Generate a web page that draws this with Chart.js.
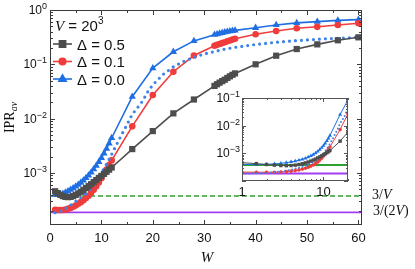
<!DOCTYPE html>
<html>
<head>
<meta charset="utf-8">
<script src="https://cdn.jsdelivr.net/npm/chart.js@4.4.1/dist/chart.umd.min.js"></script>
<style>
  html, body { margin: 0; padding: 0; background: #fff; }
  #wrap { position: relative; width: 415px; height: 269px; }
  #wrap canvas { position: absolute; left: 0; top: 0; }
</style>
</head>
<body>
<div id="wrap">
  <canvas id="main" width="415" height="269"></canvas>
  <canvas id="inset" width="415" height="269"></canvas>
</div>
<script>
// IPR_av vs disorder W, V = 20^3

// disorder values shared by the three marked series
const W = [1, 1.5, 2, 2.5, 3, 3.5, 4, 4.5, 5, 5.5, 6, 6.5, 7, 7.5, 8, 8.5, 9, 9.5, 10, 10.5, 11, 11.5, 12,
  16, 20, 24, 28,
  32, 32.5, 33, 33.5, 34, 34.5, 35, 35.5, 36,
  40, 44, 48, 52, 56, 60];

const ipr05 = [4.6e-4, 4.25e-4, 3.95e-4, 3.75e-4, 3.62e-4, 3.58e-4, 3.62e-4, 3.75e-4, 3.95e-4, 4.2e-4, 4.5e-4, 4.85e-4,
  5.25e-4, 5.7e-4, 6.2e-4, 6.8e-4, 7.4e-4, 8.1e-4, 8.8e-4, 9.6e-4, 1.05e-3, 1.15e-3, 1.26e-3,
  2.75e-3, 5.9e-3, 0.0125, 0.0225,
  0.040, 0.043, 0.046, 0.049, 0.052, 0.056, 0.060, 0.064, 0.068,
  0.100, 0.144, 0.191, 0.233, 0.277, 0.314];

const ipr01 = [2.1e-4, 2.08e-4, 2.07e-4, 2.08e-4, 2.12e-4, 2.18e-4, 2.27e-4, 2.38e-4, 2.52e-4, 2.7e-4, 2.9e-4, 3.15e-4,
  3.45e-4, 3.8e-4, 4.3e-4, 4.9e-4, 5.7e-4, 6.7e-4, 8.0e-4, 9.6e-4, 1.15e-3, 1.4e-3, 1.7e-3,
  7.2e-3, 0.0272, 0.073, 0.145,
  0.22, 0.228, 0.237, 0.246, 0.255, 0.265, 0.275, 0.285, 0.295,
  0.357, 0.41, 0.46, 0.49, 0.53, 0.569];

const ipr00 = [4.0e-4, 3.95e-4, 4.0e-4, 4.15e-4, 4.35e-4, 4.6e-4, 4.9e-4, 5.25e-4, 5.65e-4, 6.1e-4, 6.65e-4, 7.3e-4,
  8.1e-4, 9.0e-4, 1.02e-3, 1.17e-3, 1.36e-3, 1.6e-3, 1.9e-3, 2.3e-3, 2.8e-3, 3.5e-3, 4.4e-3,
  0.0253, 0.085, 0.17, 0.27,
  0.35, 0.36, 0.37, 0.38, 0.39, 0.398, 0.406, 0.414, 0.422,
  0.47, 0.53, 0.58, 0.61, 0.645, 0.665];

// dotted blue curve (no legend entry)
const Wdot = [1, 2, 3, 4, 5, 6, 7, 8, 9, 10, 11, 12, 13, 14, 15, 16, 17, 18, 19, 20,
  22, 24, 26, 28, 30, 32, 34, 36, 40, 44, 48, 52, 56, 60];
const iprDot = [1.85e-4, 1.95e-4, 2.2e-4, 2.55e-4, 3.0e-4, 3.5e-4, 4.2e-4, 5.3e-4, 7.2e-4, 1.0e-3, 1.45e-3, 2.2e-3,
  3.4e-3, 5.2e-3, 7.8e-3, 0.012, 0.0158, 0.021, 0.031, 0.042,
  0.065, 0.09, 0.113, 0.135, 0.155, 0.172, 0.19, 0.205, 0.232, 0.255, 0.273, 0.289, 0.302, 0.314];

const V = 8000;
const refLines = [3 / V, 3 / (2 * V)];
const legendLabels = ['\u0394 = 0.5', '\u0394 = 0.1', '\u0394 = 0.0'];

// axis ticks
const xMajor = [0, 10, 20, 30, 40, 50, 60];
const xMinor = [5, 15, 25, 35, 45, 55];
const yExps = [0, -1, -2, -3];
const insetXLabels = [1, 10];
const insetYExps = [-1, -2, -3];

const GRAY = '#4d4d4d', RED = '#f03c3c', BLUE = '#1f6fe3', BLUE_DOT = '#3d83e8';
const GREEN = '#2f9f2f', PURPLE = '#a23cf2';
const SANS = '"Liberation Sans", Arial, sans-serif';
const SERIF = '"Liberation Serif", "Times New Roman", serif';

function pts(xs, ys, maxX) {
  const out = [];
  xs.forEach((x, i) => { if (maxX === undefined || x <= maxX) out.push({ x: x, y: ys[i] }); });
  return out;
}

function logTicks(min, max) {
  const out = [];
  for (let d = Math.floor(Math.log10(min)); d <= Math.ceil(Math.log10(max)); d++) {
    for (let k = 1; k <= 9; k++) {
      const v = k * Math.pow(10, d);
      if (v >= min * 0.999 && v <= max * 1.001) out.push({ v: v, major: k === 1 });
    }
  }
  return out;
}

// draw a run of text pieces [text, font, dy]
function drawParts(ctx, parts, x, y) {
  ctx.textAlign = 'left';
  ctx.textBaseline = 'alphabetic';
  let cx = x;
  parts.forEach(p => {
    ctx.font = p[1];
    ctx.fillText(p[0], cx, y + (p[2] || 0));
    cx += ctx.measureText(p[0]).width;
  });
  return cx - x;
}
function partsWidth(ctx, parts) {
  let w = 0;
  parts.forEach(p => { ctx.font = p[1]; w += ctx.measureText(p[0]).width; });
  return w;
}
function powParts(exp, base, sup) {
  const e = exp < 0 ? '\u2212' + Math.abs(exp) : String(exp);
  return [['10', base + 'px ' + SANS, 0], [e, sup + 'px ' + SANS, -5]];
}

function drawTicks(ctx, a, xs, ys, xPix, yPix, majLen, minLen) {
  ctx.beginPath();
  xs.forEach(t => {
    const px = Math.round(xPix(t.v)) + 0.5;
    const len = t.major ? majLen : minLen;
    ctx.moveTo(px, a.bottom); ctx.lineTo(px, a.bottom - len);
    ctx.moveTo(px, a.top); ctx.lineTo(px, a.top + len);
  });
  ys.forEach(t => {
    const py = Math.round(yPix(t.v)) + 0.5;
    const len = t.major ? majLen : minLen;
    ctx.moveTo(a.left, py); ctx.lineTo(a.left + len, py);
    ctx.moveTo(a.right, py); ctx.lineTo(a.right - len, py);
  });
  ctx.stroke();
}

const mainDecor = {
  id: 'mainDecor',
  afterDatasetsDraw(chart) {
    const { ctx, chartArea: a, scales: { x, y } } = chart;
    ctx.save();
    ctx.strokeStyle = '#3a3a3a';
    ctx.lineWidth = 1;
    ctx.strokeRect(a.left + 0.5, a.top + 0.5, a.right - a.left - 1, a.bottom - a.top - 1);
    const xt = xMajor.map(v => ({ v: v, major: true })).concat(xMinor.map(v => ({ v: v, major: false })));
    drawTicks(ctx, a, xt, logTicks(y.min, y.max), v => x.getPixelForValue(v), v => y.getPixelForValue(v), 5, 3);

    ctx.fillStyle = '#111';
    // x tick labels
    ctx.font = '13px ' + SANS;
    ctx.textAlign = 'center';
    ctx.textBaseline = 'alphabetic';
    xMajor.forEach(v => ctx.fillText(String(v), x.getPixelForValue(v), a.bottom + 17));
    // y tick labels
    yExps.forEach(e => {
      const parts = powParts(e, 12, 9);
      const w = partsWidth(ctx, parts);
      drawParts(ctx, parts, a.left - 3 - w, y.getPixelForValue(Math.pow(10, e)) + 4);
    });
    // axis titles
    ctx.font = 'italic 15px ' + SERIF;
    ctx.textAlign = 'center';
    ctx.fillText('W', (a.left + a.right) / 2 + 1, 262);
    ctx.save();
    ctx.translate(14, (a.top + a.bottom) / 2);
    ctx.rotate(-Math.PI / 2);
    const yt = [['IPR', '14px ' + SERIF, 0], ['av', 'italic 10px ' + SERIF, 3]];
    drawParts(ctx, yt, -partsWidth(ctx, yt) / 2, 0);
    ctx.restore();

    // reference line labels
    drawParts(ctx, [['3/', '14px ' + SERIF, 0], ['V', 'italic 14px ' + SERIF, 0]], a.right + 10, y.getPixelForValue(refLines[0]) + 3);
    drawParts(ctx, [['3/(2', '14px ' + SERIF, 0], ['V', 'italic 14px ' + SERIF, 0], [')', '14px ' + SERIF, 0]],
      a.right + 11, y.getPixelForValue(refLines[1]) + 3);

    // legend
    drawParts(ctx, [['V', 'italic 15px ' + SERIF, 0], [' = 20', '15px ' + SANS, 0], ['3', '10px ' + SANS, -7]], 55, 31);
    const ds = chart.data.datasets;
    [0, 2, 3].forEach((di, row) => {
      const d = ds[di];
      const cy = 44 + row * 17.5;
      ctx.strokeStyle = d.borderColor;
      ctx.lineWidth = 1.6;
      ctx.beginPath(); ctx.moveTo(53, cy); ctx.lineTo(72, cy); ctx.stroke();
      ctx.fillStyle = d.pointBackgroundColor;
      Chart.helpers.drawPoint(ctx, { pointStyle: d.pointStyle, radius: d.pointRadius, rotation: 0, borderWidth: 1 }, 62.5, cy);
      ctx.fillStyle = '#111';
      drawParts(ctx, [[legendLabels[row], '15px ' + SANS, 0]], 77, cy + 5.5);
    });
    ctx.restore();
  }
};

const insetDecor = {
  id: 'insetDecor',
  beforeDatasetsDraw(chart) {
    const { ctx, chartArea: a } = chart;
    ctx.save();
    ctx.fillStyle = '#fff';
    ctx.fillRect(a.left, a.top, a.right - a.left, a.bottom - a.top);
    ctx.restore();
  },
  afterDatasetsDraw(chart) {
    const { ctx, chartArea: a, scales: { x, y } } = chart;
    ctx.save();
    ctx.strokeStyle = '#555';
    ctx.lineWidth = 1;
    ctx.strokeRect(a.left + 0.5, a.top + 0.5, a.right - a.left - 1, a.bottom - a.top - 1);
    drawTicks(ctx, a, logTicks(x.min, x.max), logTicks(y.min, y.max), v => x.getPixelForValue(v), v => y.getPixelForValue(v), 4, 2);
    ctx.fillStyle = '#111';
    ctx.font = '13px ' + SANS;
    ctx.textAlign = 'center';
    ctx.textBaseline = 'alphabetic';
    insetXLabels.forEach(v => ctx.fillText(String(v), x.getPixelForValue(v), a.bottom + 15));
    insetYExps.forEach(e => {
      const parts = powParts(e, 12, 9);
      const w = partsWidth(ctx, parts);
      drawParts(ctx, parts, a.left - 2 - w, y.getPixelForValue(Math.pow(10, e)) + 4);
    });
    ctx.restore();
  }
};

function seriesSet(maxX, big) {
  const lw = big ? 1.6 : 1;
  const r = big ? 1 : 0.55;
  const xEnd = big ? 60.7 : 20;
  const xStart = big ? 0 : 1;
  return [
    { data: pts(W, ipr05, maxX), borderColor: GRAY, backgroundColor: GRAY, pointBackgroundColor: GRAY,
      borderWidth: lw, pointStyle: 'rect', pointRadius: 4.4 * r, pointBorderWidth: 0 },
    { data: pts(Wdot, iprDot, maxX), borderColor: BLUE_DOT, borderWidth: big ? 3.2 : 2,
      borderDash: big ? [0, 6] : [0, 3.6], borderCapStyle: 'round', pointRadius: 0 },
    { data: pts(W, ipr01, maxX), borderColor: RED, backgroundColor: RED, pointBackgroundColor: RED,
      borderWidth: lw, pointStyle: 'circle', pointRadius: 3.3 * r, pointBorderWidth: 0 },
    { data: pts(W, ipr00, maxX), borderColor: BLUE, backgroundColor: BLUE, pointBackgroundColor: BLUE,
      borderWidth: lw, pointStyle: 'triangle', pointRadius: 4.2 * r, pointBorderWidth: 0 },
    { data: [{ x: xStart, y: refLines[0] }, { x: xEnd, y: refLines[0] }], borderColor: GREEN,
      borderWidth: big ? 1.5 : 2, borderDash: big ? [5, 3] : [], pointRadius: 0 },
    { data: [{ x: xStart, y: refLines[1] }, { x: xEnd, y: refLines[1] }], borderColor: PURPLE,
      borderWidth: big ? 1.8 : 2, pointRadius: 0 }
  ];
}

const baseOpts = {
  responsive: false,
  animation: false,
  events: [],
  elements: { line: { tension: 0 } },
  plugins: { legend: { display: false }, tooltip: { enabled: false } }
};

new Chart(document.getElementById('main'), {
  type: 'line',
  data: { datasets: seriesSet(undefined, true) },
  options: Object.assign({}, baseOpts, {
    layout: { padding: { left: 50, right: 53, top: 10, bottom: 44 } },
    scales: {
      x: { type: 'linear', min: 0, max: 60.7, display: false },
      y: { type: 'logarithmic', min: 1.1e-4, max: 1, display: false }
    }
  }),
  plugins: [mainDecor]
});

new Chart(document.getElementById('inset'), {
  type: 'line',
  data: { datasets: seriesSet(20, false) },
  options: Object.assign({}, baseOpts, {
    layout: { padding: { left: 242, right: 67, top: 98, bottom: 88 } },
    scales: {
      x: { type: 'logarithmic', min: 1, max: 20, display: false },
      y: { type: 'logarithmic', min: 1e-4, max: 0.1, display: false }
    }
  }),
  plugins: [insetDecor]
});
</script>
</body>
</html>
